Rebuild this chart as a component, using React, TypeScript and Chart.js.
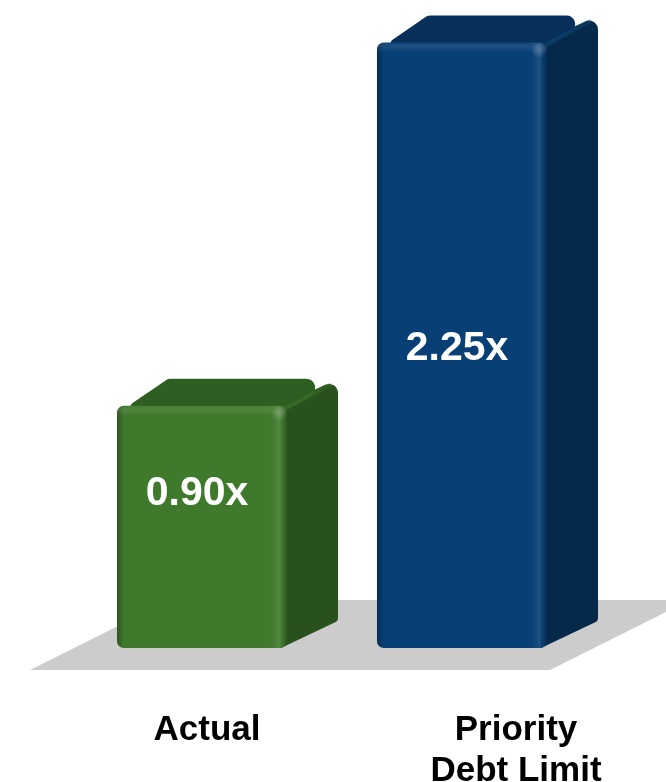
import React, { useEffect, useRef } from 'react';
import { Chart, registerables } from 'chart.js';

Chart.register(...registerables);

const categories: string[][] = [['Actual'], ['Priority', 'Debt Limit']];
const values: number[] = [0.9, 2.25];
const valueLabels: string[] = ['0.90x', '2.25x'];
const frontColors: string[] = ['#3f792c', '#083f74'];
const topColors: string[] = ['#2f5e22', '#063059'];
const sideColors: string[] = ['#29511d', '#05294b'];
const highlightColors: string[] = ['#4f9039', '#1b5a94'];

const FONT = "'Liberation Sans', Arial, Helvetica, sans-serif";
const DX = 51;
const DY = -27;

function polyRounded(ctx: CanvasRenderingContext2D, pts: number[][], radii: number[]) {
  const n = pts.length;
  ctx.beginPath();
  const mid = [(pts[0][0] + pts[n - 1][0]) / 2, (pts[0][1] + pts[n - 1][1]) / 2];
  ctx.moveTo(mid[0], mid[1]);
  for (let i = 0; i < n; i++) {
    const p = pts[i];
    const q = pts[(i + 1) % n];
    if (radii[i] > 0) ctx.arcTo(p[0], p[1], q[0], q[1], radii[i]);
    else ctx.lineTo(p[0], p[1]);
  }
  ctx.closePath();
}

const threeD = {
  id: 'threeD',
  beforeDatasetsDraw(chart: any) {
    const ctx: CanvasRenderingContext2D = chart.ctx;
    const yS = chart.scales.y;
    const { left, right } = chart.chartArea;
    const y0 = yS.getPixelForValue(0);
    ctx.save();
    // floor
    ctx.fillStyle = '#cccccc';
    ctx.beginPath();
    ctx.moveTo(left - 42, y0 + 22);
    ctx.lineTo(right - 42, y0 + 22);
    ctx.lineTo(right + 98, y0 - 48);
    ctx.lineTo(left + 98, y0 - 48);
    ctx.closePath();
    ctx.fill();

    const meta = chart.getDatasetMeta(0);
    meta.data.forEach((bar: any, i: number) => {
      const l = bar.x - bar.width / 2;
      const r = bar.x + bar.width / 2;
      const t = bar.y;
      const b = bar.base;
      // side face
      ctx.fillStyle = sideColors[i];
      polyRounded(ctx, [[r - 6, t], [r + DX, t + DY], [r + DX, b + DY], [r - 6, b]], [0, 9, 5, 0]);
      ctx.fill();
      // top face
      ctx.fillStyle = topColors[i];
      polyRounded(ctx, [[l, t + 8], [l + DX, t + DY], [r + DX, t + DY], [r - 6, t + 8]], [6, 8, 9, 0]);
      ctx.fill();
      // soft edge highlight between top and side
      ctx.strokeStyle = highlightColors[i];
      ctx.globalAlpha = 0.25;
      ctx.lineWidth = 4;
      ctx.lineCap = 'round';
      ctx.beginPath();
      ctx.moveTo(r - 4, t + 4);
      ctx.lineTo(r + DX - 8, t + DY + 6);
      ctx.stroke();
      ctx.globalAlpha = 1;
    });
    ctx.restore();
  },
  afterDatasetsDraw(chart: any) {
    const ctx: CanvasRenderingContext2D = chart.ctx;
    const meta = chart.getDatasetMeta(0);
    const fracs = [0.65, 0.5];
    ctx.save();
    meta.data.forEach((bar: any, i: number) => {
      const l = bar.x - bar.width / 2;
      const r = bar.x + bar.width / 2;
      const t = bar.y;
      const b = bar.base;
      ctx.save();
      ctx.beginPath();
      (ctx as any).roundRect(l, t, r - l, b - t, 7);
      ctx.clip();
      // left edge shading
      const lg = ctx.createLinearGradient(l, 0, l + 7, 0);
      lg.addColorStop(0, 'rgba(0,0,0,0.3)');
      lg.addColorStop(1, 'rgba(0,0,0,0)');
      ctx.fillStyle = lg;
      ctx.fillRect(l, t, 7, b - t);
      // right edge highlight + shade
      const rg = ctx.createLinearGradient(r - 16, 0, r, 0);
      rg.addColorStop(0, 'rgba(255,255,255,0)');
      rg.addColorStop(0.55, 'rgba(255,255,255,0.09)');
      rg.addColorStop(0.75, 'rgba(0,0,0,0.05)');
      rg.addColorStop(1, 'rgba(0,0,0,0.3)');
      ctx.fillStyle = rg;
      ctx.fillRect(r - 16, t, 16, b - t);
      // top edge highlight
      const tg = ctx.createLinearGradient(0, t, 0, t + 10);
      tg.addColorStop(0, 'rgba(255,255,255,0.03)');
      tg.addColorStop(0.4, 'rgba(255,255,255,0.09)');
      tg.addColorStop(1, 'rgba(255,255,255,0)');
      ctx.fillStyle = tg;
      ctx.fillRect(l, t, r - l, 10);
      // corner glint
      const cg = ctx.createRadialGradient(r - 8, t + 8, 0, r - 8, t + 8, 8);
      cg.addColorStop(0, 'rgba(255,255,255,0.22)');
      cg.addColorStop(1, 'rgba(255,255,255,0)');
      ctx.fillStyle = cg;
      ctx.fillRect(r - 16, t, 16, 16);
      ctx.restore();

      // value label
      ctx.fillStyle = '#ffffff';
      ctx.font = `bold 41px ${FONT}`;
      ctx.textAlign = 'center';
      ctx.textBaseline = 'middle';
      ctx.fillText(valueLabels[i], bar.x - 5, b - (b - t) * fracs[i] + 3);
    });
    ctx.restore();
  },
  afterDraw(chart: any) {
    const ctx: CanvasRenderingContext2D = chart.ctx;
    const xS = chart.scales.x;
    const y0 = chart.scales.y.getPixelForValue(0);
    const offs = [5, 54];
    ctx.save();
    ctx.fillStyle = '#000000';
    ctx.font = `bold 35px ${FONT}`;
    ctx.textAlign = 'center';
    ctx.textBaseline = 'alphabetic';
    categories.forEach((lines, i) => {
      const cx = xS.getPixelForValue(i) + offs[i];
      lines.forEach((line, j) => {
        ctx.fillText(line, cx, y0 + 92 + j * 41);
      });
    });
    ctx.restore();
  },
};

export default function App() {
  const ref = useRef<HTMLCanvasElement | null>(null);
  useEffect(() => {
    if (!ref.current) return;
    const chart = new Chart(ref.current, {
      type: 'bar',
      data: {
        labels: categories,
        datasets: [
          {
            data: values,
            backgroundColor: frontColors,
            borderRadius: 7,
            borderSkipped: false,
            borderWidth: 0,
            categoryPercentage: 1,
            barPercentage: 0.654,
          },
        ],
      },
      options: {
        responsive: false,
        animation: false,
        devicePixelRatio: 1,
        layout: { padding: { left: 72, right: 74, top: 2, bottom: 134 } },
        plugins: { legend: { display: false }, tooltip: { enabled: false } },
        scales: {
          x: { display: false },
          y: { display: false, min: 0, max: 2.4 },
        },
      },
      plugins: [threeD],
    });
    return () => chart.destroy();
  }, []);
  return (
    <div style={{ position: 'absolute', left: 0, top: 0, width: 666, height: 782, background: '#ffffff' }}>
      <canvas ref={ref} width={666} height={782} />
    </div>
  );
}
